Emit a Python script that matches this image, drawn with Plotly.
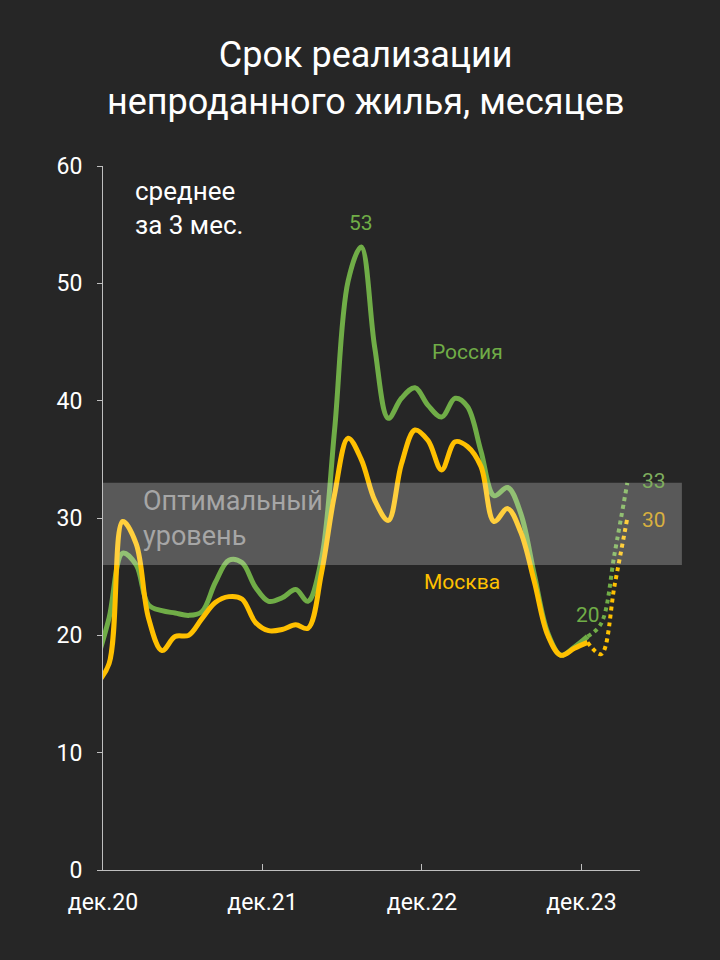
import plotly.graph_objects as go
import pandas as pd

# monthly values, months until absorbed (3-month average)
months = pd.date_range("2020-11-01", "2023-12-01", freq="MS") + pd.Timedelta(days=14)
russia = [17.6, 21.5, 27.0, 26.0, 22.6, 22.1, 21.9, 21.7, 22.0, 24.5, 26.4, 26.2,
          24.1, 22.9, 23.2, 23.9, 22.9, 26.5, 37.5, 50.2, 53.1, 44.5, 38.5, 40.2,
          41.1, 39.6, 38.6, 40.2, 39.5, 35.7, 31.9, 32.6, 30.4, 25.2, 20.2, 18.3,
          19.0, 19.9]
moscow = [15.8, 17.6, 29.7, 27.8, 21.5, 18.7, 19.9, 20.0, 21.4, 22.8, 23.3, 23.1,
          21.1, 20.4, 20.5, 20.9, 20.6, 25.3, 32.0, 36.8, 35.0, 31.5, 29.8, 34.6,
          37.5, 36.6, 34.1, 36.5, 36.1, 34.4, 29.7, 30.8, 28.8, 24.6, 20.0, 18.3,
          18.9, 19.4]

# latest months (dotted)
fc_months = pd.date_range("2023-12-01", "2024-03-01", freq="MS") + pd.Timedelta(days=14)
russia_fc = [19.9, 21.0, 27.0, 33.0]
moscow_fc = [19.4, 18.4, 24.3, 30.0]

optimal = [26, 33]

xticks = ["2020-12-01", "2021-12-01", "2022-12-01", "2023-12-01"]
xticktext = ["дек.20", "дек.21", "дек.22", "дек.23"]

GREEN = "#70ad47"
GOLD = "#ffc000"
BG = "#262626"
FONT = "Roboto, Liberation Sans, sans-serif"

fig = go.Figure()
fig.add_trace(go.Scatter(x=months, y=russia, mode="lines",
                         line=dict(color=GREEN, width=5, shape="spline", smoothing=1)))
fig.add_trace(go.Scatter(x=months, y=moscow, mode="lines",
                         line=dict(color=GOLD, width=5, shape="spline", smoothing=1)))
fig.add_trace(go.Scatter(x=fc_months, y=russia_fc, mode="lines",
                         line=dict(color=GREEN, width=4, dash="4px,4px", shape="spline", smoothing=1)))
fig.add_trace(go.Scatter(x=fc_months, y=moscow_fc, mode="lines",
                         line=dict(color=GOLD, width=4, dash="4px,4px", shape="spline", smoothing=1)))

# optimal band, drawn over the lines
fig.add_shape(type="rect", xref="paper", yref="y", x0=0, x1=1.078,
              y0=optimal[0], y1=optimal[1], layer="above",
              fillcolor="rgba(255,255,255,0.24)", line=dict(width=0))

notes = [
    dict(text="среднее<br>за 3 мес.", x=0.056, y=0.94, xanchor="left",
         align="left", font=dict(size=26, color="white")),
    dict(text="Оптимальный<br>уровень", x=0.07, y=0.4986, xanchor="left",
         align="left", font=dict(size=27, color="#a6a6a6")),
    dict(text="Россия", x=0.678, y=0.736, font=dict(size=21, color=GREEN)),
    dict(text="Москва", x=0.668, y=0.409, font=dict(size=21, color=GOLD)),
    dict(text="20", x=0.903, y=0.362, font=dict(size=21, color=GREEN)),
    dict(text="33", x=1.0, y=0.5526, xanchor="left", font=dict(size=21, color="#7fae5e")),
    dict(text="30", x=1.0, y=0.497, xanchor="left", font=dict(size=21, color="#d8b040")),
]
for n in notes:
    n.setdefault("xanchor", "center")
    fig.add_annotation(xref="paper", yref="paper", showarrow=False, yanchor="middle", **n)

fig.add_annotation(x=months[20], y=max(russia), text=str(round(max(russia))),
                   showarrow=False, yshift=24, font=dict(size=21, color=GREEN))

fig.update_layout(
    width=720, height=960,
    paper_bgcolor=BG, plot_bgcolor=BG,
    margin=dict(l=103, r=80, t=166, b=90),
    showlegend=False, hovermode=False,
    font=dict(family=FONT, color="white"),
    title=dict(text="Срок реализации<br>непроданного жилья, месяцев",
               x=0.508, xanchor="center", y=0.93, yanchor="top",
               font=dict(size=36, color="white")),
    xaxis=dict(type="date", range=["2020-12-01", "2024-04-13"],
               tickvals=xticks, ticktext=xticktext,
               ticks="inside", ticklen=6, tickcolor="#bfbfbf",
               showline=True, linecolor="#bfbfbf", linewidth=1,
               showgrid=False, zeroline=False,
               tickfont=dict(size=23, color="white"), ticklabelstandoff=11),
    yaxis=dict(range=[0, 60], dtick=10, ticks="outside", ticklen=5,
               tickcolor="#bfbfbf", showline=True, linecolor="#bfbfbf",
               linewidth=1, showgrid=False, zeroline=False,
               tickfont=dict(size=23, color="white"), ticklabelstandoff=10),
)

fig.write_html("out.html", config=dict(displayModeBar=False),
               post_script="document.body.style.margin='0';"
                           "document.body.style.background='#262626';")
